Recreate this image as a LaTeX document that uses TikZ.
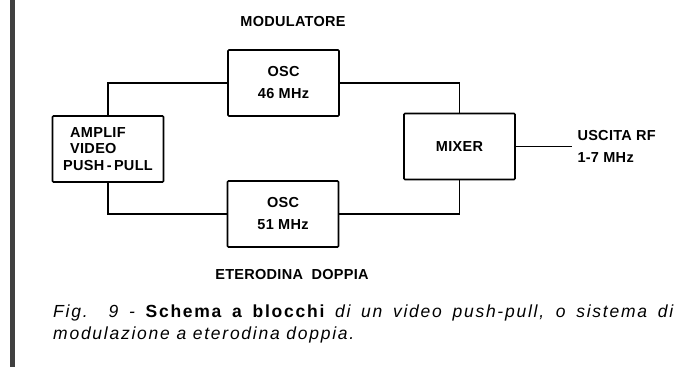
\documentclass[tikz,border=0pt]{standalone}
\usepackage{fontspec}
\setmainfont{Liberation Sans}
\newfontfamily\labelfont[LetterSpace=2]{Liberation Sans}
\newfontfamily\captionfont[LetterSpace=10]{Liberation Sans}
\begin{document}
\begin{tikzpicture}[
        x=1pt, y=-1pt,
        block/.style={draw, line width=1.6pt, rounded corners=1pt, minimum width=111pt, minimum height=66pt, align=center, font=\labelfont\fontsize{14.5}{22}\selectfont\bfseries},
        heading/.style={font=\labelfont\fontsize{14.5}{17}\selectfont\bfseries},
        wire/.style={line width=1.1pt}
    ]
        \useasboundingbox (0,0) rectangle (685,367);
        \fill[black!75] (10,0) rectangle (15,367);

        \node[heading] (modLabel) at (293,22) {MODULATORE};
        \node[block] (osc46) at (283.5,83) {OSC\\46 MHz};
        \node[block, align=left, font=\labelfont\fontsize{14.5}{16.5}\selectfont\bfseries]
            (amplif) at (108,149) {\hspace{7pt}AMPLIF\\\hspace{7pt}VIDEO\\PUSH\,-\,PULL};
        \node[block] (mixer) at (459.5,146.5) {MIXER};
        \node[block] (osc51) at (283,214) {OSC\\51 MHz};
        \node[heading] (eteroLabel) at (292,275) {ETERODINA\ \ DOPPIA};
        \node[heading, anchor=west, align=left, font=\labelfont\fontsize{14.5}{22}\selectfont\bfseries]
            (outLabel) at (574,146) {USCITA RF\\1-7 MHz};
        \coordinate (outEnd) at (572,146.5);

        \draw[wire] (amplif.north) |- (osc46.west);
        \draw[wire] (amplif.south) |- (osc51.west);
        \draw[wire] (osc46.east) -| (mixer.north);
        \draw[wire] (osc51.east) -| (mixer.south);
        \draw[wire] (mixer.east) -- (outEnd);

        \node[anchor=north west, text width=620pt, align=justify, inner sep=0pt,
              font=\captionfont\fontsize{17.5}{22}\selectfont\itshape] (caption) at (53,305)
            {Fig. 9 - {\upshape\bfseries Schema a blocchi} di un video push-pull, o sistema di\linebreak modulazione a eterodina doppia.};
    \end{tikzpicture}
\end{document}
